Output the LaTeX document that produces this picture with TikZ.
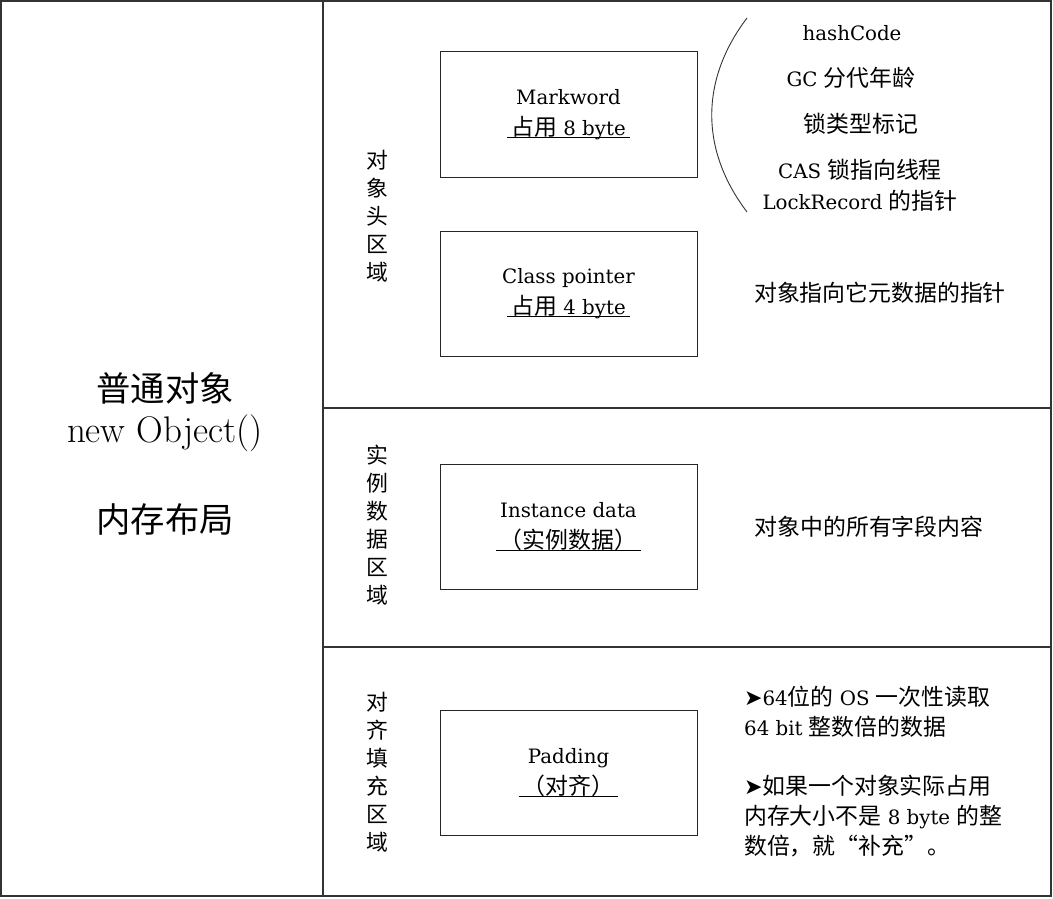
\documentclass[tikz,border=0pt]{standalone}
\usepackage{fontspec}
\setmainfont{DejaVu Serif}[Scale=0.9]
\newfontfamily\lmr{Latin Modern Roman}
\newfontfamily\cjk{Noto Sans CJK SC}[Scale=1.04]
\newfontfamily\sym{DejaVu Sans}
\newcommand\ulin[1]{\setbox0\hbox{#1}\kern-4pt\rlap{\rule[-2.5pt]{\dimexpr\wd0+8pt\relax}{0.8pt}}\kern4pt\box0}
\begin{document}
\begin{tikzpicture}[x=1pt,y=-1pt,
  frame/.style={draw=black!80,line width=1.2pt},
  box/.style={draw=black!85,line width=1pt,minimum width=257pt,minimum height=125pt,inner sep=0pt,align=center,font=\fontsize{22}{31}\selectfont},
  txt/.style={inner sep=0pt,align=center,font=\fontsize{22}{30}\selectfont},
  vtxt/.style={inner sep=0pt,align=center,font=\fontsize{21}{28}\selectfont\cjk},
  big/.style={inner sep=0pt,align=center,font=\fontsize{33}{40}\selectfont}]
\useasboundingbox (0,0) rectangle (1053,899);
% frame
\coordinate (tl) at (1,1);
\coordinate (br) at (1051,896);
\coordinate (vt) at (323,1);
\coordinate (vb) at (323,896);
\coordinate (h1l) at (323,408);
\coordinate (h1r) at (1051,408);
\coordinate (h2l) at (323,647);
\coordinate (h2r) at (1051,647);
\draw[frame] (tl) rectangle (br);
\draw[frame] (vt) -- (vb);
\draw[frame] (h1l) -- (h1r);
\draw[frame] (h2l) -- (h2r);
% left title
\node[big] (t1) at (165,388) {\cjk 普通对象};
\node[big,font=\fontsize{37}{40}\selectfont\lmr] (t2) at (165,433) {new Object()};
\node[big] (t3) at (165,519) {\cjk 内存布局};
% vertical labels
\node[vtxt] (v1) at (377,216) {对\\象\\头\\区\\域};
\node[vtxt] (v2) at (377,525.5) {实\\例\\数\\据\\区\\域};
\node[vtxt] (v3) at (377,772) {对\\齐\\填\\充\\区\\域};
% boxes
\node[box] (mw) at (568.5,114.5) {Markword\\\ulin{{\cjk 占用} 8 byte}};
\node[box] (cp) at (568.5,293.5) {Class pointer\\\ulin{{\cjk 占用} 4 byte}};
\node[box] (id) at (568.5,526.5) {Instance data\\\ulin{\cjk （实例数据）}};
\node[box] (pd) at (568.5,772.5) {Padding\\\ulin{\cjk （对齐）}};
% bracket
\coordinate (ba) at (747,18);
\coordinate (bb) at (747,212);
\draw[black!80,line width=0.9pt] (ba) .. controls (700,80) and (700,150) .. (bb);
% markword details
\node[txt] (m1) at (852,33) {hashCode};
\node[txt] (m2) at (851,78) {GC {\cjk 分代年龄}};
\node[txt] (m3) at (861,124) {\cjk 锁类型标记};
\node[txt] (m4) at (860,170) {CAS {\cjk 锁指向线程}};
\node[txt] (m5) at (860,201) {LockRecord {\cjk 的指针}};
% other descriptions
\node[txt] (c1) at (880,293) {\cjk 对象指向它元数据的指针};
\node[txt] (i1) at (869,527) {\cjk 对象中的所有字段内容};
\node[txt,align=left,anchor=west] (p1) at (744,712) {{\sym ➤}64{\cjk 位的} OS {\cjk 一次性读取}\\64 bit {\cjk 整数倍的数据}};
\node[txt,align=left,anchor=west] (p2) at (744,816) {{\sym ➤}{\cjk 如果一个对象实际占用}\\{\cjk 内存大小不是} 8 byte {\cjk 的整}\\{\cjk 数倍，就“补充”。}};
\end{tikzpicture}
\end{document}
